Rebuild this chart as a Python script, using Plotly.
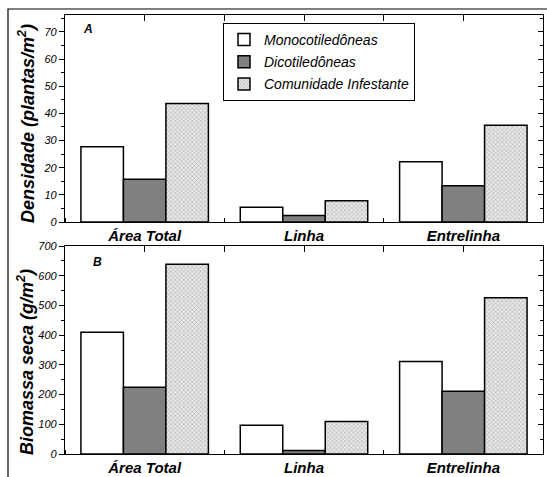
import plotly.graph_objects as go

categories = ["Área Total", "Linha", "Entrelinha"]
series_names = ["Monocotiledôneas", "Dicotiledôneas", "Comunidade Infestante"]
densidade_mono = [27.7, 5.4, 22.2]
densidade_dico = [15.7, 2.4, 13.3]
densidade_com = [43.6, 7.8, 35.6]
biomassa_mono = [410, 97, 311]
biomassa_dico = [225, 12, 211]
biomassa_com = [639, 109, 526]

W, H = 547, 477
L, R, T, B = 65, 4, 15, 23
PW, PH = W - L - R, H - T - B


def px(x):
    return (x - L) / PW


def py(y):
    return (H - B - y) / PH


FONT = "Arial, Liberation Sans, sans-serif"
xs = list(range(len(categories)))

styles = [
    dict(color="white"),
    dict(color="#808080"),
    dict(color="white", pattern=dict(shape="x", size=3, solidity=0.35, fgcolor="#777777", bgcolor="#e8e8e8")),
]

fig = go.Figure()
for i, (name, vals) in enumerate(zip(series_names, [densidade_mono, densidade_dico, densidade_com])):
    fig.add_trace(go.Bar(x=xs, y=vals, name=name, legendgroup=name, xaxis="x", yaxis="y",
                         marker=dict(**styles[i], line=dict(color="black", width=1.5))))
for i, (name, vals) in enumerate(zip(series_names, [biomassa_mono, biomassa_dico, biomassa_com])):
    fig.add_trace(go.Bar(x=xs, y=vals, name=name, legendgroup=name, showlegend=False, xaxis="x2", yaxis="y2",
                         marker=dict(**styles[i], line=dict(color="black", width=1.5))))

domA = [py(222), py(15)]
domB = [py(454), py(246)]
rngA = [0, 76.2]
rngB = [0, 700]
xr = [-0.5, 2.5]

tickfont = dict(family=FONT, size=11, color="black", style="italic")
catfont = dict(family=FONT, size=15, color="black", style="italic", weight="bold")


def xbottom(anchor):
    return dict(domain=[0, 1], range=xr, anchor=anchor, tickvals=xs, ticktext=categories, ticks="",
                showline=True, linecolor="black", linewidth=1.2, showgrid=False, zeroline=False,
                tickfont=catfont,
                minor=dict(tick0=0.5, dtick=1, ticks="inside", ticklen=4, tickcolor="black", showgrid=False))


def xtop(overlay, anchor):
    return dict(overlaying=overlay, side="top", range=xr, anchor=anchor, tickvals=[0, 0.5, 1, 1.5, 2],
                ticks="inside", ticklen=6, tickcolor="black", showticklabels=False,
                showline=True, linecolor="black", linewidth=1.2, showgrid=False, zeroline=False)


def yleft(dom, rng, dt, anchor):
    return dict(domain=dom, range=rng, anchor=anchor, dtick=dt, ticks="outside", ticklen=5, tickcolor="black",
                showline=True, linecolor="black", linewidth=1.2, showgrid=False, zeroline=False,
                tickfont=tickfont,
                minor=dict(dtick=dt / 2, ticks="outside", ticklen=3, tickcolor="black", showgrid=False))


def yright(overlay, rng, dt, anchor):
    return dict(overlaying=overlay, side="right", range=rng, anchor=anchor, dtick=dt, ticks="inside", ticklen=5,
                tickcolor="black", showticklabels=False, showline=True, linecolor="black", linewidth=1.2,
                showgrid=False, zeroline=False,
                minor=dict(dtick=dt / 2, ticks="inside", ticklen=3, tickcolor="black", showgrid=False))


fig.update_layout(
    width=W, height=H,
    margin=dict(l=L, r=R, t=T, b=B, autoexpand=False),
    paper_bgcolor="white", plot_bgcolor="white",
    barmode="group", bargap=0.2, bargroupgap=0,
    font=dict(family=FONT, color="black"),
    xaxis=xbottom("y"),
    xaxis3=xtop("x", "y"),
    xaxis2=xbottom("y2"),
    xaxis4=xtop("x2", "y2"),
    yaxis=yleft(domA, rngA, 10, "x"),
    yaxis3=yright("y", rngA, 10, "x"),
    yaxis2=yleft(domB, rngB, 100, "x2"),
    yaxis4=yright("y2", rngB, 100, "x2"),
    legend=dict(x=px(223), y=py(23), xanchor="left", yanchor="top",
                bordercolor="black", borderwidth=1, bgcolor="white",
                font=dict(family=FONT, size=14, color="black", style="italic"),
                tracegroupgap=1, itemwidth=30),
    showlegend=True,
)

# invisible traces to activate the overlaying axes
fig.add_trace(go.Scatter(x=[None], y=[None], xaxis="x3", yaxis="y3", showlegend=False))
fig.add_trace(go.Scatter(x=[None], y=[None], xaxis="x4", yaxis="y4", showlegend=False))

titlefont = dict(family=FONT, size=18, color="black", style="italic", weight="bold")
fig.add_annotation(text="Densidade (plantas/m<sup>2</sup>)", xref="paper", yref="paper",
                   x=px(27), y=py(124), textangle=-90, showarrow=False, font=titlefont,
                   xanchor="center", yanchor="middle")
fig.add_annotation(text="Biomassa seca (g/m<sup>2</sup>)", xref="paper", yref="paper",
                   x=px(25), y=py(362), textangle=-90, showarrow=False, font=titlefont,
                   xanchor="center", yanchor="middle")
panelfont = dict(family=FONT, size=12, color="black", style="italic", weight="bold")
fig.add_annotation(text="A", xref="paper", yref="paper", x=px(88), y=py(29), showarrow=False,
                   font=panelfont, xanchor="center", yanchor="middle")
fig.add_annotation(text="B", xref="paper", yref="paper", x=px(97), y=py(262), showarrow=False,
                   font=panelfont, xanchor="center", yanchor="middle")

# outer frame of the original figure
fig.add_shape(type="rect", xref="paper", yref="paper", x0=px(8), x1=px(560), y0=py(490), y1=py(9),
              line=dict(color="black", width=1.2), fillcolor="rgba(0,0,0,0)", layer="below")

fig.write_html("out.html", config=dict(displayModeBar=False),
               post_script="document.body.style.margin='0';document.body.style.overflow='hidden';")
